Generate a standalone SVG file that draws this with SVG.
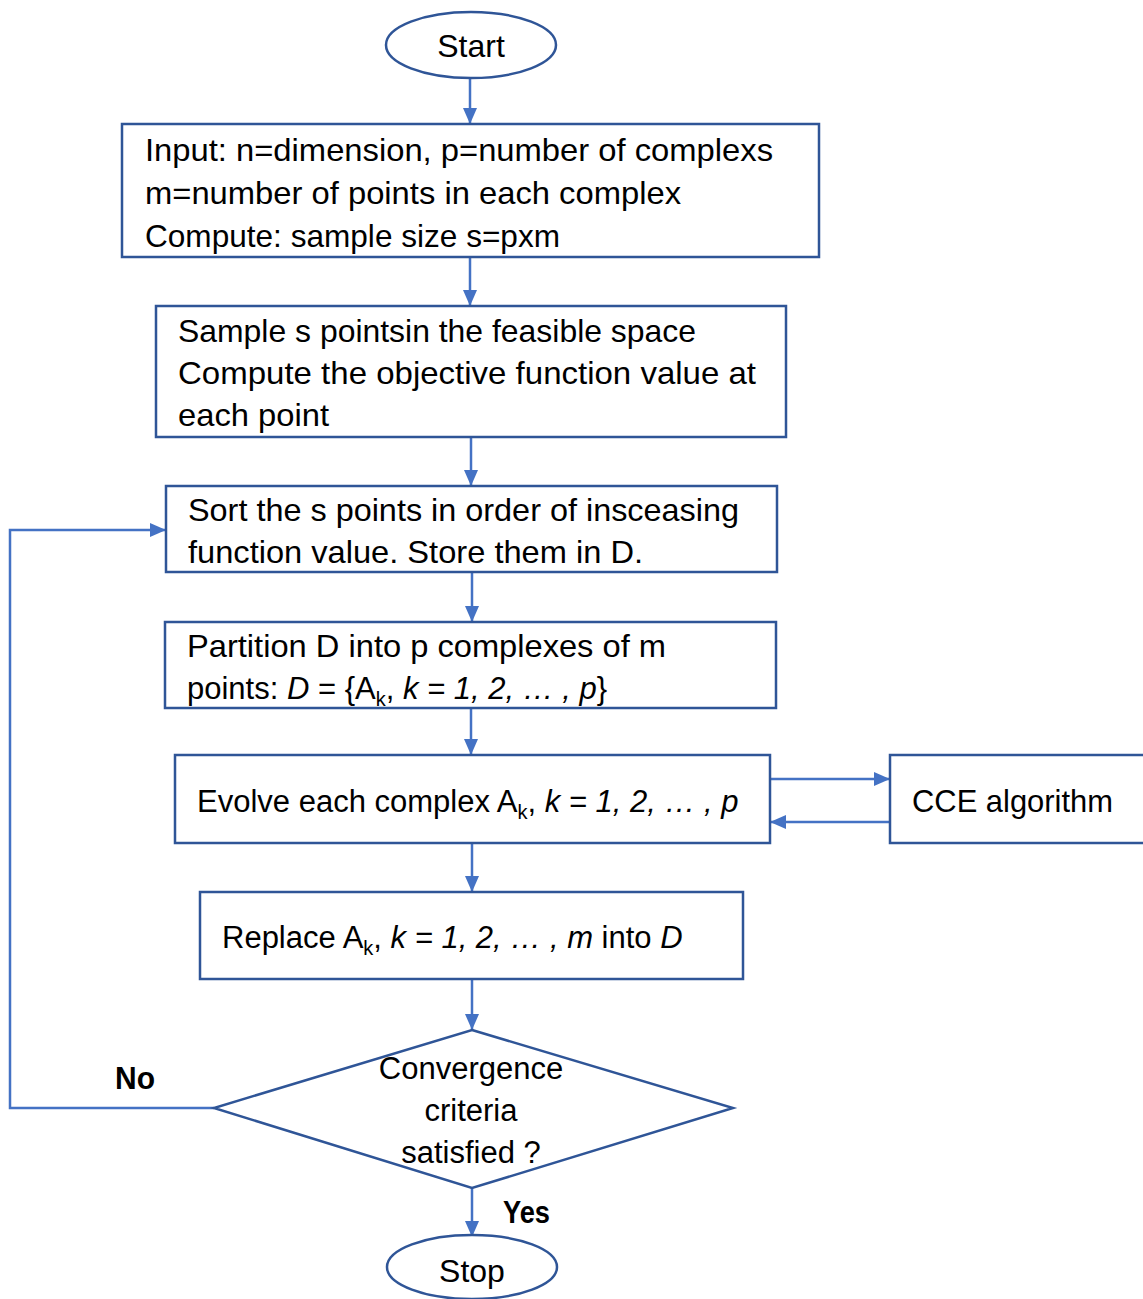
<svg xmlns="http://www.w3.org/2000/svg" width="1143" height="1299" viewBox="0 0 1143 1299">
<style>
.box{fill:#fff;stroke:#2F5597;stroke-width:2.5}
.con{fill:none;stroke:#4472C4;stroke-width:2.5}
text{font-family:"Liberation Sans",Arial,sans-serif;font-size:32px;fill:#000}
.m{font-size:31px}
.c{text-anchor:middle}
.b{font-weight:bold}
.i{font-style:italic}
.sub{font-size:20px}
</style>
<defs>
<marker id="ah" markerUnits="userSpaceOnUse" markerWidth="16" markerHeight="14" refX="16" refY="7" orient="auto">
<path d="M0,0 L16,7 L0,14 z" fill="#4472C4"/>
</marker>
</defs>
<rect width="1143" height="1299" fill="#fff"/>
<g id="connectors">
<path class="con" d="M470,78 V124" marker-end="url(#ah)"/>
<path class="con" d="M470,257 V306" marker-end="url(#ah)"/>
<path class="con" d="M471,437 V486" marker-end="url(#ah)"/>
<path class="con" d="M472,572 V622" marker-end="url(#ah)"/>
<path class="con" d="M471,708 V755" marker-end="url(#ah)"/>
<path class="con" d="M770,779 H890" marker-end="url(#ah)"/>
<path class="con" d="M890,822 H770" marker-end="url(#ah)"/>
<path class="con" d="M472,843 V892" marker-end="url(#ah)"/>
<path class="con" d="M472,979 V1030" marker-end="url(#ah)"/>
<path class="con" d="M214,1108 H10 V530 H166" marker-end="url(#ah)"/>
<path class="con" d="M472,1188 V1237" marker-end="url(#ah)"/>
<text class="b" x="115" y="1089" textLength="40" lengthAdjust="spacingAndGlyphs">No</text>
<text class="b" x="503" y="1223" textLength="47" lengthAdjust="spacingAndGlyphs">Yes</text>
</g>
<g id="start">
<ellipse class="box" cx="471" cy="45" rx="85" ry="33"/>
<text class="c" x="471" y="57">Start</text>
</g>
<g id="input">
<rect class="box" x="122" y="124" width="697" height="133"/>
<text x="145" y="161" textLength="628" lengthAdjust="spacingAndGlyphs">Input: n=dimension, p=number of complexs</text>
<text x="145" y="204" textLength="536" lengthAdjust="spacingAndGlyphs">m=number of points in each complex</text>
<text x="145" y="247" textLength="415" lengthAdjust="spacingAndGlyphs">Compute: sample size s=pxm</text>
</g>
<g id="sample">
<rect class="box" x="156" y="306" width="630" height="131"/>
<text x="178" y="342" textLength="518" lengthAdjust="spacingAndGlyphs">Sample s pointsin the feasible space</text>
<text x="178" y="384" textLength="578" lengthAdjust="spacingAndGlyphs">Compute the objective function value at</text>
<text x="178" y="426" textLength="151" lengthAdjust="spacingAndGlyphs">each point</text>
</g>
<g id="sort">
<rect class="box" x="166" y="486" width="611" height="86"/>
<text x="188" y="521" textLength="551" lengthAdjust="spacingAndGlyphs">Sort the s points in order of insceasing</text>
<text x="188" y="563" textLength="455" lengthAdjust="spacingAndGlyphs">function value. Store them in D.</text>
</g>
<g id="partition">
<rect class="box" x="165" y="622" width="611" height="86"/>
<text x="187" y="657" textLength="479" lengthAdjust="spacingAndGlyphs">Partition D into p complexes of m</text>
<text class="m" x="187" y="699">points: <tspan class="i">D</tspan> = {A<tspan class="sub" dy="7">k</tspan><tspan dy="-7">, </tspan><tspan class="i">k = 1, 2, … , p</tspan>}</text>
</g>
<g id="evolve">
<rect class="box" x="175" y="755" width="595" height="88"/>
<text class="m" x="197" y="812">Evolve each complex A<tspan class="sub" dy="7">k</tspan><tspan dy="-7">, </tspan><tspan class="i">k = 1, 2, … , p</tspan></text>
</g>
<g id="cce">
<rect class="box" x="890" y="755" width="260" height="88"/>
<text x="912" y="812" textLength="201" lengthAdjust="spacingAndGlyphs">CCE algorithm</text>
</g>
<g id="replace">
<rect class="box" x="200" y="892" width="543" height="87"/>
<text class="m" x="222" y="948">Replace A<tspan class="sub" dy="7">k</tspan><tspan dy="-7">, </tspan><tspan class="i">k = 1, 2, … , m</tspan> into <tspan class="i">D</tspan></text>
</g>
<g id="decision">
<polygon class="box" points="472,1030 733,1108 472,1188 214,1108"/>
<text class="c m" x="471" y="1079">Convergence</text>
<text class="c m" x="471" y="1121">criteria</text>
<text class="c m" x="471" y="1163">satisfied ?</text>
</g>
<g id="stop">
<ellipse class="box" cx="472" cy="1267" rx="85" ry="32"/>
<text class="c" x="472" y="1282">Stop</text>
</g>
</svg>
